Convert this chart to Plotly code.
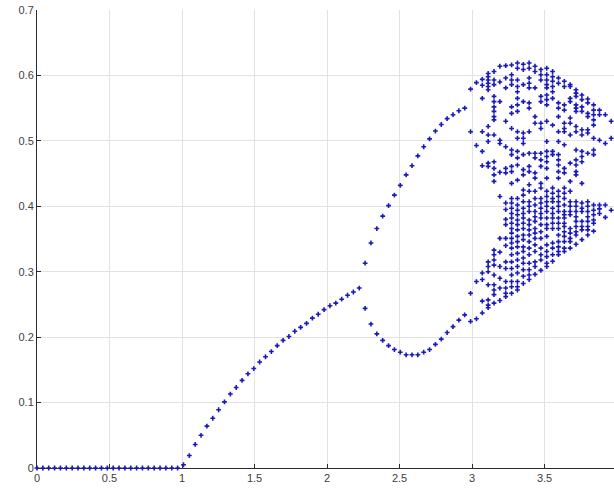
import numpy as np
import plotly.graph_objects as go

# parameter sweep: 100 evenly spaced values of r on [0, 4]
r_values = np.linspace(0, 4, 100)

# k = 0..55 : single stable state
fixed_y = [0.0] * 25 + [
    0.005, 0.019, 0.036, 0.050, 0.064, 0.076, 0.089, 0.101, 0.113, 0.123,
    0.134, 0.144, 0.152, 0.162, 0.170, 0.178, 0.187, 0.195, 0.201, 0.209,
    0.215, 0.221, 0.229, 0.235, 0.242, 0.248, 0.252, 0.258, 0.264, 0.269,
    0.275,
]

# k = 56..73 : period-2 cycle
upper_y = [0.313, 0.344, 0.366, 0.385, 0.401, 0.417, 0.432, 0.448, 0.462,
           0.477, 0.491, 0.503, 0.515, 0.525, 0.534, 0.540, 0.546, 0.550]
lower_y = [0.244, 0.220, 0.205, 0.195, 0.187, 0.181, 0.177, 0.173, 0.173,
           0.173, 0.177, 0.181, 0.189, 0.197, 0.207, 0.216, 0.226, 0.234]

# k = 74..98 : period-4 and chaotic attractor states, one list per r
chaos_y = [
    [0.579, 0.514, 0.267, 0.224],
    [0.589, 0.493, 0.285, 0.228],
    [0.594, 0.585, 0.565, 0.514, 0.484, 0.462, 0.298, 0.288, 0.255, 0.237],
    [0.603, 0.598, 0.593, 0.588, 0.583, 0.578, 0.522, 0.509, 0.499, 0.466,
     0.461, 0.315, 0.308, 0.300, 0.280, 0.257, 0.249, 0.245],
    [0.606, 0.593, 0.586, 0.568, 0.560, 0.552, 0.545, 0.537, 0.532, 0.509,
     0.468, 0.458, 0.448, 0.438, 0.333, 0.326, 0.318, 0.310, 0.295, 0.280,
     0.272, 0.265, 0.252],
    [0.614, 0.590, 0.560, 0.501, 0.496, 0.452, 0.415, 0.351, 0.330, 0.308,
     0.290, 0.275, 0.256],
    [0.615, 0.596, 0.581, 0.530, 0.491, 0.458, 0.451, 0.405, 0.395, 0.380,
     0.372, 0.351, 0.340, 0.315, 0.305, 0.285, 0.275, 0.267, 0.262],
    [0.616, 0.601, 0.593, 0.586, 0.552, 0.542, 0.519, 0.486, 0.479, 0.461,
     0.453, 0.435, 0.412, 0.405, 0.397, 0.389, 0.382, 0.374, 0.366, 0.359,
     0.351, 0.344, 0.336, 0.326, 0.315, 0.305, 0.295, 0.285, 0.277, 0.267],
    [0.619, 0.611, 0.593, 0.583, 0.575, 0.565, 0.555, 0.545, 0.514, 0.504,
     0.484, 0.474, 0.463, 0.440, 0.412, 0.402, 0.394, 0.387, 0.379, 0.372,
     0.364, 0.354, 0.346, 0.338, 0.328, 0.318, 0.308, 0.298, 0.285, 0.277,
     0.272],
    [0.617, 0.609, 0.586, 0.560, 0.512, 0.504, 0.496, 0.479, 0.456, 0.448,
     0.425, 0.417, 0.407, 0.397, 0.389, 0.382, 0.374, 0.366, 0.356, 0.349,
     0.338, 0.331, 0.321, 0.313, 0.303, 0.293, 0.282],
    [0.619, 0.611, 0.596, 0.588, 0.581, 0.558, 0.550, 0.514, 0.481, 0.461,
     0.453, 0.433, 0.423, 0.407, 0.400, 0.392, 0.379, 0.372, 0.364, 0.356,
     0.346, 0.336, 0.326, 0.313, 0.303, 0.295, 0.288],
    [0.614, 0.606, 0.581, 0.537, 0.527, 0.481, 0.474, 0.451, 0.443, 0.423,
     0.412, 0.402, 0.392, 0.384, 0.377, 0.366, 0.359, 0.351, 0.341, 0.331,
     0.315, 0.308, 0.296],
    [0.609, 0.601, 0.593, 0.568, 0.560, 0.527, 0.519, 0.481, 0.471, 0.461,
     0.435, 0.428, 0.412, 0.405, 0.397, 0.389, 0.382, 0.372, 0.361, 0.351,
     0.336, 0.326, 0.318, 0.302],
    [0.611, 0.601, 0.593, 0.586, 0.581, 0.570, 0.563, 0.555, 0.530, 0.499,
     0.484, 0.476, 0.468, 0.458, 0.443, 0.423, 0.415, 0.407, 0.400, 0.392,
     0.382, 0.372, 0.366, 0.354, 0.341, 0.331, 0.323, 0.313, 0.308],
    [0.606, 0.598, 0.591, 0.583, 0.575, 0.565, 0.524, 0.484, 0.479, 0.428,
     0.420, 0.412, 0.407, 0.397, 0.389, 0.382, 0.374, 0.366, 0.344, 0.336,
     0.326, 0.316],
    [0.596, 0.588, 0.558, 0.550, 0.537, 0.514, 0.499, 0.479, 0.471, 0.463,
     0.453, 0.443, 0.423, 0.415, 0.407, 0.400, 0.392, 0.382, 0.374, 0.366,
     0.356, 0.346, 0.338, 0.331, 0.326],
    [0.591, 0.583, 0.555, 0.547, 0.527, 0.519, 0.514, 0.494, 0.458, 0.451,
     0.428, 0.420, 0.412, 0.402, 0.392, 0.387, 0.382, 0.374, 0.369, 0.361,
     0.354, 0.346, 0.336, 0.331],
    [0.586, 0.583, 0.565, 0.560, 0.535, 0.527, 0.509, 0.466, 0.438, 0.423,
     0.407, 0.400, 0.392, 0.387, 0.366, 0.359, 0.351, 0.346, 0.336],
    [0.578, 0.573, 0.568, 0.555, 0.550, 0.545, 0.522, 0.514, 0.486, 0.471,
     0.463, 0.453, 0.448, 0.407, 0.400, 0.392, 0.384, 0.377, 0.369, 0.361,
     0.356, 0.342],
    [0.570, 0.563, 0.552, 0.545, 0.517, 0.509, 0.484, 0.476, 0.468, 0.435,
     0.405, 0.397, 0.392, 0.377, 0.369, 0.364, 0.349],
    [0.564, 0.558, 0.542, 0.537, 0.517, 0.512, 0.481, 0.407, 0.400, 0.392,
     0.384, 0.377, 0.369, 0.364, 0.356],
    [0.555, 0.547, 0.540, 0.532, 0.524, 0.504, 0.486, 0.479, 0.402, 0.394,
     0.387, 0.379, 0.374, 0.362],
    [0.547, 0.540, 0.501, 0.402, 0.396, 0.389],
    [0.540, 0.496, 0.402, 0.383],
    [0.530, 0.504, 0.394],
]

x_tick_values = [0, 0.5, 1, 1.5, 2, 2.5, 3, 3.5]
x_tick_labels = ["0", "0.5", "1", "1.5", "2", "2.5", "3", "3.5"]
y_tick_values = [0, 0.1, 0.2, 0.3, 0.4, 0.5, 0.6, 0.7]
y_tick_labels = ["0", "0.1", "0.2", "0.3", "0.4", "0.5", "0.6", "0.7"]

# flatten the per-r states into scatter coordinates
xs, ys = [], []
for k, y in enumerate(fixed_y):
    xs.append(r_values[k]); ys.append(y)
for i, (u, l) in enumerate(zip(upper_y, lower_y)):
    k = 56 + i
    xs += [r_values[k], r_values[k]]
    ys += [u, l]
for i, col in enumerate(chaos_y):
    k = 74 + i
    xs += [r_values[k]] * len(col)
    ys += col

fig = go.Figure(
    go.Scatter(
        x=xs, y=ys, mode="markers",
        marker=dict(symbol="cross", size=4, color="#1a1ab8", line=dict(width=0)),
        cliponaxis=False, hoverinfo="skip",
    )
)

axis_font = dict(family="Liberation Sans, Arial, sans-serif", size=11, color="#404040")
fig.update_xaxes(
    range=[0, 3.979], tickvals=x_tick_values, ticktext=x_tick_labels,
    showgrid=True, gridcolor="#e2e2e2", gridwidth=1, zeroline=False,
    showline=True, linecolor="#2b2b2b", linewidth=1,
    ticks="inside", ticklen=4, tickcolor="#2b2b2b", tickfont=axis_font,
    layer="below traces",
)
fig.update_yaxes(
    range=[0, 0.7], tickvals=y_tick_values, ticktext=y_tick_labels,
    showgrid=True, gridcolor="#e2e2e2", gridwidth=1, zeroline=False,
    showline=True, linecolor="#2b2b2b", linewidth=1,
    ticks="inside", ticklen=4, tickcolor="#2b2b2b", tickfont=axis_font,
    layer="below traces",
)
fig.update_layout(
    width=614, height=489,
    margin=dict(l=37, r=0, t=10, b=21, pad=0),
    paper_bgcolor="white", plot_bgcolor="white",
    showlegend=False,
)

fig.write_html("out.html")
